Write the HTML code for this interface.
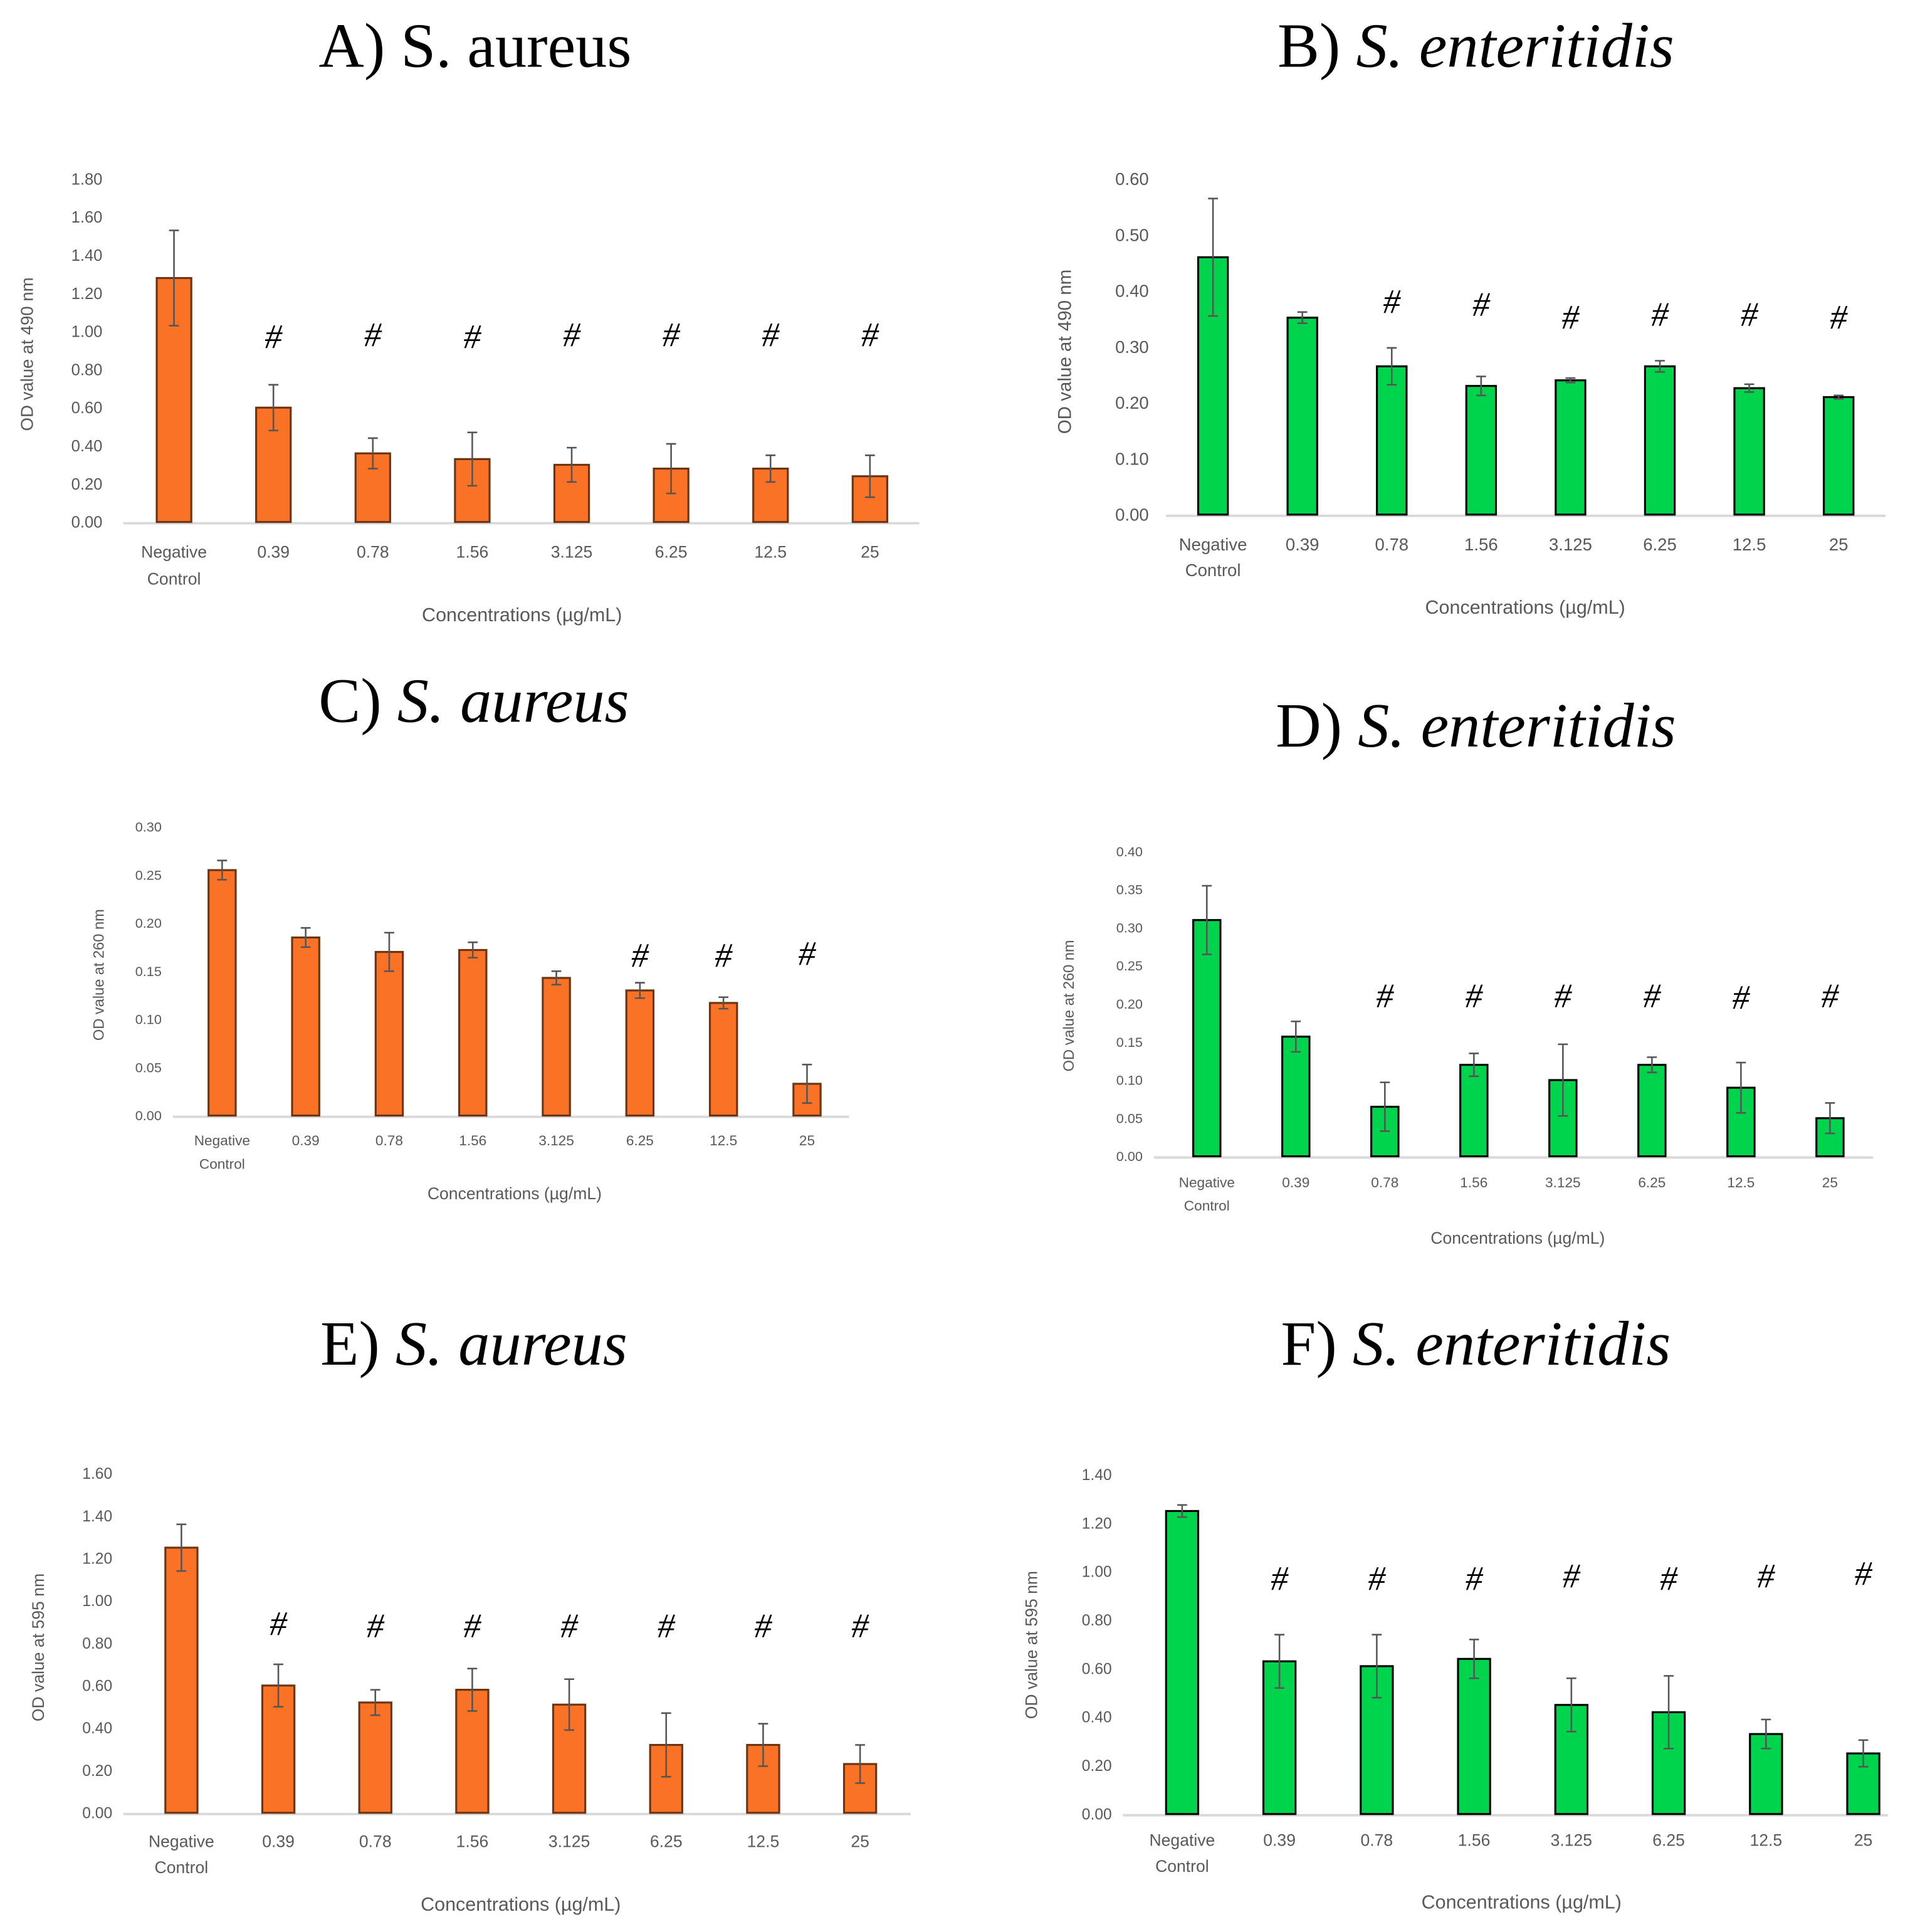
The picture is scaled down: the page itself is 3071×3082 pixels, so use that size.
<!DOCTYPE html>
<html><head><meta charset="utf-8"><style>
html,body{margin:0;padding:0;background:#fff;}
svg{display:block;}
</style></head><body>
<svg id="fig" width="3071" height="3082" viewBox="0 0 1560 1565.6" xmlns="http://www.w3.org/2000/svg">
<rect width="1560" height="1566" fill="#fff"/>
</svg>
<script>
const categories = ["Negative|Control","0.39","0.78","1.56","3.125","6.25","12.5","25"];
// Panel A
const valuesA = [1.28,0.60,0.36,0.33,0.30,0.28,0.28,0.24];
const errorsA = [0.25,0.12,0.08,0.14,0.09,0.13,0.07,0.11];
const sigA = [1,2,3,4,5,6,7];
const sigYA = [0.97,0.98,0.97,0.98,0.98,0.98,0.98];
const ticksA = ["0.00","0.20","0.40","0.60","0.80","1.00","1.20","1.40","1.60","1.80"];
// Panel B
const valuesB = [0.46,0.352,0.265,0.23,0.24,0.265,0.226,0.21];
const errorsB = [0.105,0.01,0.033,0.017,0.004,0.01,0.007,0.003];
const sigB = [2,3,4,5,6,7];
const sigYB = [0.38,0.375,0.352,0.357,0.357,0.352];
const ticksB = ["0.00","0.10","0.20","0.30","0.40","0.50","0.60"];
// Panel C
const valuesC = [0.255,0.185,0.17,0.172,0.143,0.13,0.117,0.033];
const errorsC = [0.01,0.01,0.02,0.008,0.007,0.008,0.006,0.02];
const sigC = [5,6,7];
const sigYC = [0.166,0.166,0.168];
const ticksC = ["0.00","0.05","0.10","0.15","0.20","0.25","0.30"];
// Panel D
const valuesD = [0.31,0.157,0.065,0.12,0.10,0.12,0.09,0.05];
const errorsD = [0.045,0.02,0.032,0.015,0.047,0.01,0.033,0.02];
const sigD = [2,3,4,5,6,7];
const sigYD = [0.21,0.21,0.21,0.21,0.208,0.21];
const ticksD = ["0.00","0.05","0.10","0.15","0.20","0.25","0.30","0.35","0.40"];
// Panel E
const valuesE = [1.25,0.60,0.52,0.58,0.51,0.32,0.32,0.23];
const errorsE = [0.11,0.10,0.06,0.10,0.12,0.15,0.10,0.09];
const sigE = [1,2,3,4,5,6,7];
const sigYE = [0.89,0.88,0.88,0.88,0.88,0.88,0.88];
const ticksE = ["0.00","0.20","0.40","0.60","0.80","1.00","1.20","1.40","1.60"];
// Panel F
const valuesF = [1.25,0.63,0.61,0.64,0.45,0.42,0.33,0.25];
const errorsF = [0.025,0.11,0.13,0.08,0.11,0.15,0.06,0.055];
const sigF = [1,2,3,4,5,6,7];
const sigYF = [0.97,0.97,0.97,0.98,0.97,0.98,0.99];
const ticksF = ["0.00","0.20","0.40","0.60","0.80","1.00","1.20","1.40"];

const NS="http://www.w3.org/2000/svg";
const svg=document.getElementById('fig');
function mk(tag,attrs,parent){const e=document.createElementNS(NS,tag);for(const k in attrs)e.setAttribute(k,attrs[k]);(parent||svg).appendChild(e);return e;}

const panels=[
 {id:'a',letter:'A) ',species:'S. aureus',italic:false,tx:385,ty:54,vals:valuesA,errs:errorsA,sig:sigA,sigY:sigYA,ticks:ticksA,max:1.8,
  y0:423,y1:145,x0:100,x1:745,c0:141,c1:705,bw:28,fill:'#fa7226',stroke:'#6b3414',tickX:83,tfs:13,yt:'OD value at 490 nm',ytx:23,yty:287,lab1:447,lab2:469,xt:498,xtx:423,cfs:13.5,xtfs:15.5},
 {id:'b',letter:'B) ',species:'S. enteritidis',italic:true,tx:1196,ty:54,vals:valuesB,errs:errorsB,sig:sigB,sigY:sigYB,ticks:ticksB,max:0.6,
  y0:417,y1:145,x0:945,x1:1528,c0:983,c1:1490,bw:24,fill:'#00d44c',stroke:'#000',tickX:931,tfs:14,yt:'OD value at 490 nm',ytx:864,yty:285,lab1:441,lab2:462,xt:492,xtx:1236,cfs:14,xtfs:15.5},
 {id:'c',letter:'C) ',species:'S. aureus',italic:true,tx:384,ty:585,vals:valuesC,errs:errorsC,sig:sigC,sigY:sigYC,ticks:ticksC,max:0.3,
  y0:904,y1:670,x0:140,x1:688,c0:180,c1:654,bw:22,fill:'#fa7226',stroke:'#6b3414',tickX:131,tfs:11,yt:'OD value at 260 nm',ytx:81,yty:790,lab1:924,lab2:943,xt:967,xtx:417,cfs:11.5,xtfs:13.5},
 {id:'d',letter:'D) ',species:'S. enteritidis',italic:true,tx:1196,ty:605,vals:valuesD,errs:errorsD,sig:sigD,sigY:sigYD,ticks:ticksD,max:0.4,
  y0:937,y1:690,x0:935,x1:1518,c0:978,c1:1483,bw:22,fill:'#00d44c',stroke:'#000',tickX:926,tfs:11,yt:'OD value at 260 nm',ytx:867,yty:815,lab1:958,lab2:977,xt:1003,xtx:1230,cfs:11.5,xtfs:13.5},
 {id:'e',letter:'E) ',species:'S. aureus',italic:true,tx:384,ty:1106,vals:valuesE,errs:errorsE,sig:sigE,sigY:sigYE,ticks:ticksE,max:1.6,
  y0:1469,y1:1194,x0:100,x1:738,c0:147,c1:697,bw:26,fill:'#fa7226',stroke:'#6b3414',tickX:91,tfs:12.5,yt:'OD value at 595 nm',ytx:32,yty:1335,lab1:1492,lab2:1513,xt:1543,xtx:422,cfs:13.5,xtfs:15.5},
 {id:'f',letter:'F) ',species:'S. enteritidis',italic:true,tx:1196,ty:1106,vals:valuesF,errs:errorsF,sig:sigF,sigY:sigYF,ticks:ticksF,max:1.4,
  y0:1470,y1:1195,x0:910,x1:1530,c0:958,c1:1510,bw:26,fill:'#00d44c',stroke:'#000',tickX:901,tfs:12.5,yt:'OD value at 595 nm',ytx:837,yty:1333,lab1:1491,lab2:1512,xt:1541,xtx:1233,cfs:13.5,xtfs:15.5}
];

panels.forEach(p=>{
  const g=mk('g',{});
  
  
  const yS=v=>p.y0-(v/p.max)*(p.y0-p.y1);
  const n=categories.length;
  const xS=i=>p.c0+i*(p.c1-p.c0)/(n-1);
  const t=mk('text',{x:p.tx,y:p.ty,'text-anchor':'middle','font-family':'"Liberation Serif",serif','font-size':51,fill:'#000'},g);
  
  
  const s1=mk('tspan',{},t);s1.textContent=p.letter;
  const s2=mk('tspan',{'font-style':p.italic?'italic':'normal'},t);s2.textContent=p.species;
  p.ticks.forEach(tk=>{
    const e=mk('text',{x:p.tickX,y:yS(parseFloat(tk))+p.tfs*0.35,'text-anchor':'end','font-family':'"Liberation Sans",sans-serif','font-size':p.tfs,fill:'#595959'},g);
    
    
    e.textContent=tk;
  });
  const ax=mk('line',{x1:p.x0,x2:p.x1,y1:p.y0+1,y2:p.y0+1,stroke:'#d9d9d9','stroke-width':2},g);
  
  
  const yt=mk('text',{x:p.ytx,y:p.yty,'text-anchor':'middle','font-family':'"Liberation Sans",sans-serif','font-size':p.tfs+1,fill:'#595959',transform:`rotate(-90 ${p.ytx} ${p.yty})`,'dominant-baseline':'middle'},g);
  
  
  yt.textContent=p.yt;
  p.vals.forEach((v,i)=>{
    const cx=xS(i);
    const r=mk('rect',{x:cx-p.bw/2,y:yS(v),width:p.bw,height:p.y0-yS(v),fill:p.fill,stroke:p.stroke,'stroke-width':1.6},g);
    
    
    const e=p.errs[i];
    const eg=mk('g',{stroke:'#555','stroke-width':1.3},g);
    
    
    mk('line',{x1:cx,x2:cx,y1:yS(v+e),y2:yS(v-e)},eg);
    mk('line',{x1:cx-4,x2:cx+4,y1:yS(v+e),y2:yS(v+e)},eg);
    mk('line',{x1:cx-4,x2:cx+4,y1:yS(v-e),y2:yS(v-e)},eg);
    const parts=categories[i].split('|');
    const lt=mk('text',{x:cx,y:p.lab1+p.cfs*0.35,'text-anchor':'middle','font-family':'"Liberation Sans",sans-serif','font-size':p.cfs,fill:'#595959'},g);
    
    
    lt.textContent=parts[0];
    if(parts[1]){
      const l2=mk('text',{x:cx,y:p.lab2+p.cfs*0.35,'text-anchor':'middle','font-family':'"Liberation Sans",sans-serif','font-size':p.cfs,fill:'#595959'},g);
      
      
      l2.textContent=parts[1];
    }
  });
  p.sig.forEach((ci,k)=>{
    const h=mk('text',{x:xS(ci),y:yS(p.sigY[k])+9,'text-anchor':'middle','font-family':'"Liberation Serif",serif','font-size':28,'font-style':'italic',fill:'#000'},g);
    
    
    h.textContent='#';
  });
  const xt=mk('text',{x:p.xtx,y:p.xt+p.xtfs*0.35,'text-anchor':'middle','font-family':'"Liberation Sans",sans-serif','font-size':p.xtfs,fill:'#595959'},g);
  
  
  xt.textContent='Concentrations (µg/mL)';
});
</script>
</body></html>
